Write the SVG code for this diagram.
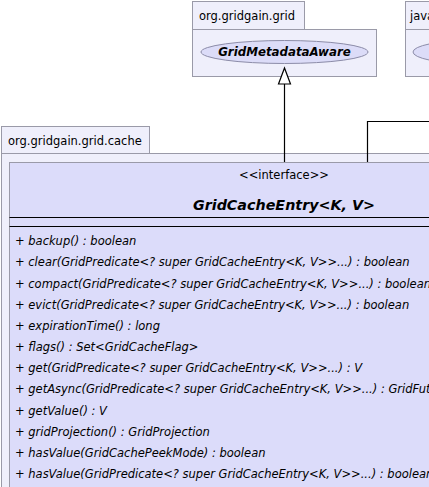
<svg xmlns="http://www.w3.org/2000/svg" width="429" height="487" viewBox="0 0 429 487">
<style>
.pkg{fill:#efeffb;stroke:#9a9aa8;stroke-width:1}
.cls{fill:#dcdcfa;stroke:#9a9aa8;stroke-width:1}
.ell{fill:#dcdcf8;stroke:#8c8ca8;stroke-width:1}
.t{font-family:"DejaVu Sans",sans-serif;font-size:11.5px;fill:#000}
.m{font-family:"DejaVu Sans",sans-serif;font-size:11.5px;font-style:italic;fill:#000}
.b{font-family:"DejaVu Sans",sans-serif;font-size:14.3px;font-style:italic;font-weight:bold;fill:#000}
.bs{font-family:"DejaVu Sans",sans-serif;font-size:11.8px;font-style:italic;font-weight:bold;fill:#000}
.c{fill:none;stroke:#000;stroke-width:1.2}
</style>
<rect width="429" height="487" fill="#ffffff"/>
<g id="pkg-grid">
<rect class="pkg" x="192.5" y="1.5" width="112" height="28"/>
<rect class="pkg" x="192.5" y="29.5" width="184" height="47"/>
<text class="t" x="199" y="20">org.gridgain.grid</text>
</g>
<g id="GridMetadataAware">
<ellipse class="ell" cx="284.5" cy="52" rx="83.5" ry="11.5"/>
<text class="bs" x="284.5" y="56" text-anchor="middle">GridMetadataAware</text>
</g>
<g id="pkg-java">
<rect class="pkg" x="405.5" y="1.5" width="40" height="28"/>
<rect class="pkg" x="405.5" y="29.5" width="60" height="47"/>
<text class="t" x="410" y="20">java</text>
<ellipse class="ell" cx="470" cy="52" rx="57" ry="11.5"/>
</g>
<g id="pkg-cache">
<rect class="pkg" x="1.5" y="126.5" width="148" height="27"/>
<rect class="pkg" x="1.5" y="153.5" width="440" height="345"/>
<text class="t" x="8" y="145">org.gridgain.grid.cache</text>
</g>
<g id="GridCacheEntry">
<rect class="cls" x="9.5" y="162.5" width="430" height="340"/>
<text class="t" x="284" y="179" text-anchor="middle">&lt;&lt;interface&gt;&gt;</text>
<text class="b" x="284" y="210" text-anchor="middle">GridCacheEntry&lt;K, V&gt;</text>
<line x1="9.5" y1="217.5" x2="429" y2="217.5" stroke="#000" stroke-width="1"/>
<line x1="9.5" y1="226.5" x2="429" y2="226.5" stroke="#000" stroke-width="1"/>
<text class="m" x="15" y="245">+ backup() : boolean</text>
<text class="m" x="15" y="266">+ clear(GridPredicate&lt;? super GridCacheEntry&lt;K, V&gt;&gt;...) : boolean</text>
<text class="m" x="15" y="288">+ compact(GridPredicate&lt;? super GridCacheEntry&lt;K, V&gt;&gt;...) : boolean</text>
<text class="m" x="15" y="309">+ evict(GridPredicate&lt;? super GridCacheEntry&lt;K, V&gt;&gt;...) : boolean</text>
<text class="m" x="15" y="330">+ expirationTime() : long</text>
<text class="m" x="15" y="351">+ flags() : Set&lt;GridCacheFlag&gt;</text>
<text class="m" x="15" y="372">+ get(GridPredicate&lt;? super GridCacheEntry&lt;K, V&gt;&gt;...) : V</text>
<text class="m" x="15" y="393">+ getAsync(GridPredicate&lt;? super GridCacheEntry&lt;K, V&gt;&gt;...) : GridFuture</text>
<text class="m" x="15" y="415">+ getValue() : V</text>
<text class="m" x="15" y="436">+ gridProjection() : GridProjection</text>
<text class="m" x="15" y="457">+ hasValue(GridCachePeekMode) : boolean</text>
<text class="m" x="15" y="478">+ hasValue(GridPredicate&lt;? super GridCacheEntry&lt;K, V&gt;&gt;...) : boolean</text>
</g>
<g id="connectors">
<polyline class="c" points="284.5,162 284.5,84"/>
<polygon points="284.5,68 278.5,84 290.5,84" fill="#fff" stroke="#000" stroke-width="1.2"/>
<polyline class="c" points="367.5,162 367.5,121.5 430,121.5"/>
</g>
</svg>
